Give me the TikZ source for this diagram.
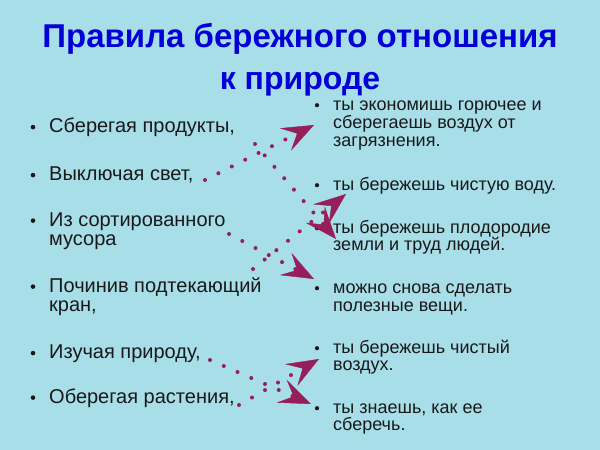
\documentclass[tikz,border=0pt]{standalone}
\usepackage{fontspec}
\setmainfont{Liberation Sans}
\usetikzlibrary{arrows.meta}
\definecolor{bg}{RGB}{168,222,232}
\definecolor{ttl}{RGB}{0,0,215}
\definecolor{txt}{RGB}{25,25,25}
\definecolor{arr}{RGB}{150,30,90}
\tikzset{
  ttlstyle/.style={font=\fontsize{32}{36}\selectfont\bfseries, text=ttl, inner sep=0pt, anchor=base},
  lt/.style={font=\fontsize{20}{20}\selectfont, text=txt, inner sep=0pt, anchor=base west},
  rt/.style={font=\fontsize{18}{18}\selectfont, text=txt, inner sep=0pt, anchor=base west},
  bdot/.style={fill=txt, circle, inner sep=0pt, minimum size=4.6pt},
  rdot/.style={fill=txt, circle, inner sep=0pt, minimum size=4.2pt},
  dotarrow/.style={draw=arr, line width=4pt, line cap=round, dash pattern=on 0pt off 15pt,
    -{Stealth[length=32pt,width=25pt,inset=13pt,line width=0.4pt,fill=arr]}}
}
\begin{document}
\begin{tikzpicture}[x=1pt,y=-1pt]
\fill[bg] (0,0) rectangle (600,450);
\useasboundingbox (0,0) rectangle (600,450);
% title
\node[ttlstyle, font=\fontsize{33}{36}\selectfont\bfseries] (t1) at (300,47) {Правила бережного отношения};
\node[ttlstyle] (t2) at (300,89) {к природе};
% left column
\node[lt] (l1) at (49,132.5) {Сберегая продукты,};
\node[lt] (l2) at (49,180.5) {Выключая свет,};
\node[lt] (l3a) at (49,226) {Из сортированного};
\node[lt] (l3b) at (49,245) {мусора};
\node[lt] (l4a) at (49,292) {Починив подтекающий};
\node[lt] (l4b) at (49,311.5) {кран,};
\node[lt] (l5) at (49,358.5) {Изучая природу,};
\node[lt] (l6) at (49,403) {Оберегая растения,};
\foreach \y [count=\i] in {132.5,180.5,226,292,358.5,403}
  \node[bdot] (lb\i) at (33,\y-5.4) {};
% right column
\node[rt] (r1a) at (333,110) {ты экономишь горючее и};
\node[rt] (r1b) at (333,128) {сберегаешь воздух от};
\node[rt] (r1c) at (333,146.5) {загрязнения.};
\node[rt] (r2) at (333,190) {ты бережешь чистую воду.};
\node[rt] (r3a) at (333,233) {ты бережешь плодородие};
\node[rt] (r3b) at (333,250.5) {земли и труд людей.};
\node[rt] (r4a) at (333,293) {можно снова сделать};
\node[rt] (r4b) at (333,311) {полезные вещи.};
\node[rt] (r5a) at (333,353) {ты бережешь чистый};
\node[rt] (r5b) at (333,370.5) {воздух.};
\node[rt] (r6a) at (333,413) {ты знаешь, как ее};
\node[rt] (r6b) at (333,430.5) {сберечь.};
\foreach \y [count=\i] in {110,190,233,293,353,413}
  \node[rdot] (rb\i) at (317,\y-4.8) {};
% arrows
\coordinate (s1) at (205,180); \coordinate (e1) at (314,125);
\coordinate (s2) at (255,144); \coordinate (e2) at (336,239);
\coordinate (s3) at (253,269); \coordinate (e3) at (346,194);
\coordinate (s4) at (229,234); \coordinate (e4) at (314,279);
\coordinate (s5) at (210,360); \coordinate (e5) at (311,404);
\coordinate (s6) at (239,405); \coordinate (e6) at (319,359);
\foreach \i in {1,...,6}
  \draw[dotarrow] (s\i) -- (e\i);
\end{tikzpicture}
\end{document}
